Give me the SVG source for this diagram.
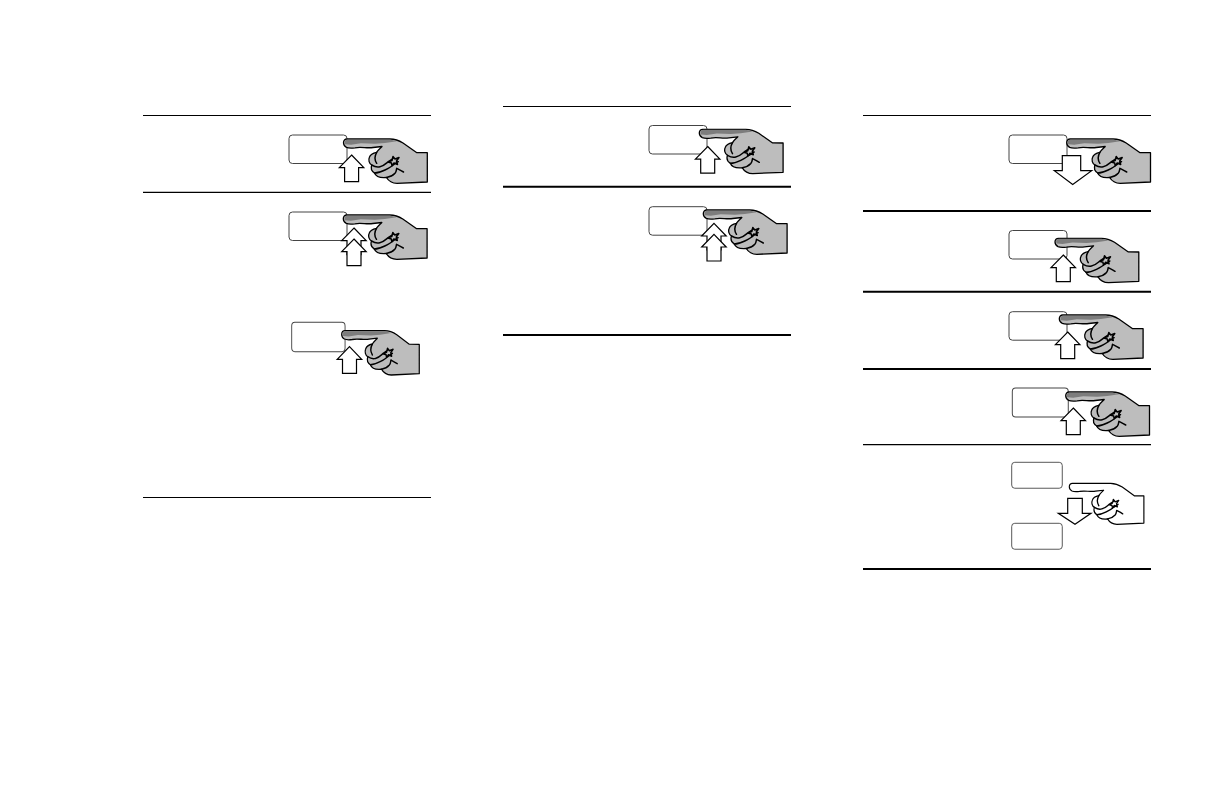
<svg xmlns="http://www.w3.org/2000/svg" xmlns:xlink="http://www.w3.org/1999/xlink" width="1224" height="792" viewBox="0 0 1224 792">
<style>
.rule{stroke:#000;fill:none}
.thin{stroke-width:1.2}
.thick{stroke-width:1.9}
.btn{fill:#fff;stroke:#444;stroke-width:1}
.arr{fill:#fff;stroke:#000;stroke-width:1.2;stroke-linejoin:miter}
.hand{stroke:#000;stroke-width:1.3;stroke-linejoin:round}
.gr{fill:#bdbdbd}
.wh{fill:#fff}
.fold{fill:none;stroke:#000;stroke-width:1.5;stroke-linecap:round;stroke-linejoin:round}
.nail{fill:#7d7d7d;stroke:none}
</style>
<defs>
<rect id="b" class="btn" x="0" y="0" width="58" height="28.5" rx="3.5"/>
<path id="ho" d="M54.5 7.8C54.5 5 56 4 58 4L101 4C106 4 110 5.5 114 8L127.5 17.5L138.3 17.7L138.3 47L108 48.3C104 48.3 100.500 47.500 97.500 42.500C92 43 87 42 85.500 38C83 36.500 81.500 33.500 82.700 30C80 28.500 79.300 25 80.300 22.500C81.300 19.500 84 18 87.700 17.300C89 15 91 13.500 93 11.500L84 12.500C78 13.500 72 11.500 66 12.800C62 13.300 59 13 57.500 12.300C55.500 11.300 54.500 9.500 54.500 7.800Z"/>
<g id="f" class="fold">
<path d="M87.700 17.300C85.500 21 85.500 25 87.700 28.300M82.700 30C86 32 89 32.300 91 31.700C95 31 97 28.500 99.300 26.700C101 25.500 103 24.500 104.300 23.300M85.500 38C89 38 93 36.500 96 35C99 33.500 102 32 104.300 30C106 28.800 108 27.500 109.300 26.700M97.500 42.500C101 42 104 40.500 106 38.300C107.500 36.500 107.300 35 107.700 33.300C110 34.500 112 35.500 114.500 37M99 27L103 25.500L104 21.500L106 24L110 22.500L107.500 26L108.500 29.500L105 28L103 31L102.500 28Z"/>
</g>
<path id="nail" class="nail" d="M55.500 6.500C56.500 4.700 58 4.500 60 4.500L101 4.500L108 6.300L96 8L86 8.800L72 8.300L62 9.800L56 9.300Z"/>
<g id="hg"><use xlink:href="#ho" class="hand gr"/><use xlink:href="#nail"/><use xlink:href="#f"/></g>
<g id="hw"><use xlink:href="#ho" class="hand wh"/><use xlink:href="#f"/></g>
<path id="up" class="arr" d="M13.300 0L25.500 12.700H20.300V26.700H6.300V12.700H1Z"/>
</defs>
<g id="connectors">
<path class="rule thin" d="M143 115.500H431M143 192.300H431M143 497.500H431M503 106.500H791M863 115.500H1151M863 444.700H1151"/>
<path class="rule thick" d="M503 186.700H791M503 335H791M863 211H1151M863 291.700H1151M863 369H1151M863 569H1151"/>
</g>
<g id="node-a1"><use xlink:href="#b" transform="translate(289 135)"/><use xlink:href="#up" transform="translate(338.300 155)"/><use xlink:href="#hg" transform="translate(289 135)"/></g>
<g id="node-a2"><use xlink:href="#b" transform="translate(289 212)"/><use xlink:href="#up" transform="translate(340.700 228)"/><use xlink:href="#up" transform="translate(340.700 239)"/><use xlink:href="#hg" transform="translate(288.800 211)"/></g>
<g id="node-a3"><use xlink:href="#b" transform="translate(291.700 322.300)scale(.92 1.03)"/><use xlink:href="#up" transform="translate(336.200 346.700)"/><use xlink:href="#hg" transform="translate(291.200 326.700)scale(.926 1)"/></g>
<g id="node-b1"><use xlink:href="#b" transform="translate(649 125.500)"/><use xlink:href="#up" transform="translate(694.400 146.500)"/><use xlink:href="#hg" transform="translate(644.800 125.300)"/></g>
<g id="node-b2"><use xlink:href="#b" transform="translate(649 206.700)"/><use xlink:href="#up" transform="translate(700.700 223.300)"/><use xlink:href="#up" transform="translate(700.700 234.300)"/><use xlink:href="#hg" transform="translate(648.800 206)"/></g>
<g id="node-c1"><use xlink:href="#b" transform="translate(1009 135)"/><path class="arr" d="M1062.300 155.700H1080.700V170.700H1091.700L1072.700 184.500L1054.300 170.700H1062.300Z"/><use xlink:href="#hg" transform="translate(1012.200 135)"/></g>
<g id="node-c2"><use xlink:href="#b" transform="translate(1009 230.500)"/><use xlink:href="#up" transform="translate(1050 255)"/><use xlink:href="#hg" transform="translate(1000.500 234.300)"/></g>
<g id="node-c3"><use xlink:href="#b" transform="translate(1009 311.700)"/><use xlink:href="#up" transform="translate(1054.400 332)"/><use xlink:href="#hg" transform="translate(1004.800 311)"/></g>
<g id="node-c4"><use xlink:href="#b" transform="translate(1012.300 388)scale(.965 1.02)"/><use xlink:href="#up" transform="translate(1060 408)"/><use xlink:href="#hg" transform="translate(1011.200 388)"/></g>
<g id="node-c5"><use xlink:href="#b" transform="translate(1011.700 462.300)scale(.872 .91)"/><use xlink:href="#b" transform="translate(1011.700 523.300)scale(.872 .91)"/><path class="arr" d="M1067.700 498.300H1082.300V513.300H1091L1075 524.300L1058.300 513.300H1067.700Z"/><use xlink:href="#hw" transform="translate(1020.800 479.600)scale(.89 .925)"/></g>
</svg>
